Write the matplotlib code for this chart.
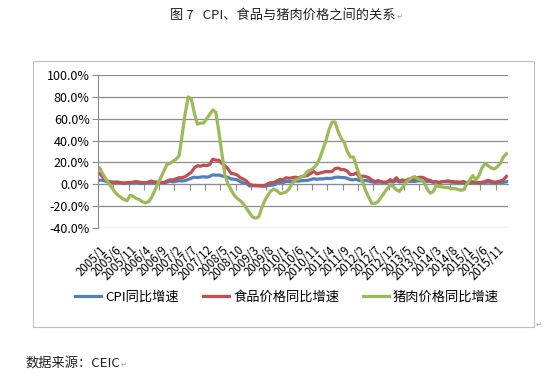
"""Figure 7: CPI, food and pork price YoY growth (China, 2005/1-2016/2)."""
import matplotlib
matplotlib.use("Agg")
import matplotlib.pyplot as plt
from matplotlib.patches import Rectangle
import numpy as np

plt.rcParams["font.family"] = ["Noto Sans CJK SC", "DejaVu Sans"]

# monthly YoY growth, %, 2005/1 .. 2016/2
CPI = [
    3.6, 3.9, 2.7, 1.8, 1.8, 1.6, 1.8, 1.3, 0.9, 1.2, 1.3, 1.6,
    1.9, 0.9, 0.8, 1.2, 1.4, 1.5, 1.0, 1.3, 1.5, 1.4, 1.9, 2.8,
    2.2, 2.7, 3.3, 3.0, 3.4, 4.4, 5.6, 6.5, 6.2, 6.5, 6.9, 6.5,
    7.1, 8.7, 8.3, 8.5, 7.7, 7.1, 6.3, 4.9, 4.6, 4.0, 2.4, 1.2,
    1.0, -1.6, -1.2, -1.5, -1.4, -1.7, -1.8, -1.2, -0.8, -0.5, 0.6, 1.9,
    1.5, 2.7, 2.4, 2.8, 3.1, 2.9, 3.3, 3.5, 3.6, 4.4, 5.1, 4.6,
    4.9, 4.9, 5.4, 5.3, 5.5, 6.4, 6.5, 6.2, 6.1, 5.5, 4.2, 4.1,
    4.5, 3.2, 3.6, 3.4, 3.0, 2.2, 1.8, 2.0, 1.9, 1.7, 2.0, 2.5,
    2.0, 3.2, 2.1, 2.4, 2.1, 2.7, 2.7, 2.6, 3.1, 3.2, 3.0, 2.5,
    2.5, 2.0, 2.4, 1.8, 2.5, 2.3, 2.3, 2.0, 1.6, 1.6, 1.4, 1.5,
    0.8, 1.4, 1.4, 1.5, 1.2, 1.4, 1.6, 2.0, 1.6, 1.3, 1.5, 1.6,
    1.8, 2.3,
]
FOOD = [
    9.8, 7.0, 4.0, 2.5, 2.0, 2.0, 2.0, 1.5, 1.0, 1.5, 1.5, 2.0,
    2.5, 2.0, 1.5, 1.5, 2.0, 3.0, 2.0, 2.0, 2.0, 1.5, 3.0, 4.0,
    4.0, 5.0, 6.0, 6.0, 7.0, 9.0, 11.0, 15.0, 17.0, 16.5, 17.5, 17.0,
    18.0, 23.0, 22.0, 22.0, 19.0, 17.0, 14.0, 10.0, 9.5, 8.5, 6.0, 4.8,
    3.0, 0.0, -0.9, -1.0, -1.2, -1.3, -1.1, 0.5, 1.5, 1.5, 3.2, 4.5,
    4.0, 6.0, 5.5, 6.0, 6.5, 6.0, 7.0, 7.5, 8.0, 10.0, 11.7, 9.6,
    10.3, 11.0, 11.7, 11.5, 11.7, 14.4, 14.8, 13.4, 13.4, 11.9, 8.8, 9.1,
    10.5, 6.2, 7.5, 7.0, 6.0, 3.9, 2.4, 3.4, 2.5, 1.8, 2.1, 4.2,
    2.9, 6.0, 2.7, 4.0, 3.2, 4.9, 5.0, 4.7, 6.1, 6.5, 5.9, 4.2,
    3.7, 2.0, 2.3, 1.5, 2.3, 2.8, 3.1, 2.5, 2.3, 2.2, 2.0, 2.5,
    1.1, 2.4, 2.3, 1.8, 1.6, 1.7, 2.7, 3.7, 2.7, 1.9, 2.3, 3.0,
    4.1, 7.3,
]
PORK = [
    15, 10, 5, 1, -3, -7, -10, -12, -14, -15, -10, -11,
    -13, -14, -16, -17, -16, -12, -6, 0, 6, 12, 18, 19,
    21, 23, 26, 45, 65, 80, 78, 65, 55, 56, 56, 60,
    64, 68, 66, 48, 28, 8, 0, -5, -10, -13, -15, -18,
    -22, -26, -30, -31, -30, -22, -15, -10, -6, -4.5, -6, -8.5,
    -8, -7, -4, 1, 4, 5, 7, 8, 12, 13, 15, 18,
    24, 32, 40, 50, 57, 57, 48, 42, 38, 30, 25, 25,
    16, 8, 2, -6, -12, -17.5, -17.5, -16, -12, -8, -4, -1,
    -2, -5, -6.5, -3, 1.5, 4, 6, 7, 5, 4, 2, -4,
    -8, -7, -1, -2, -2.5, -3, -3, -4, -4, -4.5, -5.5, -5,
    0, 4, 8, 4, 8, 15, 19, 17, 15, 14, 16, 19,
    25, 28,
]
TICK_LABELS = [
    "2005/1", "2005/6", "2005/11", "2006/4", "2006/9", "2007/2", "2007/7",
    "2007/12", "2008/5", "2008/10", "2009/3", "2009/8", "2010/1", "2010/6",
    "2010/11", "2011/4", "2011/9", "2012/2", "2012/7", "2012/12", "2013/5",
    "2013/10", "2014/3", "2014/8", "2015/1", "2015/6", "2015/11",
]
SERIES = [
    ("CPI同比增速", CPI, "#4F81BD"),
    ("食品价格同比增速", FOOD, "#C0504D"),
    ("猪肉价格同比增速", PORK, "#9BBB59"),
]
GRID = "#8C8C8C"
MARK = "↵"  # Word paragraph marks visible in the source page

fig = plt.figure(figsize=(5.5, 3.85), dpi=100)
ax = fig.add_axes([98 / 550, 1 - 228 / 385, 410 / 550, 153 / 385])

n = len(CPI)
x = np.arange(n)
for name, vals, col in SERIES:
    ax.plot(x, np.array(vals) / 100, color=col, lw=2.3, label=name,
            solid_joinstyle="round")

ax.set_xlim(-0.5, n - 0.5)
ax.set_ylim(-0.4, 1.0)
yt = np.arange(-0.4, 1.01, 0.2)
ax.set_yticks(yt)
ax.set_yticklabels([f"{v * 100:.1f}%" for v in yt], fontsize=9)
ax.yaxis.grid(True, color=GRID, lw=0.9)
ax.set_axisbelow(True)
ax.tick_params(axis="y", direction="out", length=4, color=GRID, pad=2)

ax.set_xticks(np.arange(0, n, 5)[:len(TICK_LABELS)])
ax.set_xticklabels(TICK_LABELS, rotation=45, ha="right", va="top",
                   rotation_mode="anchor", fontsize=8.3)
ax.tick_params(axis="x", length=0, pad=11)

for s in ("top", "right", "bottom"):
    ax.spines[s].set_visible(False)
ax.spines["left"].set_color(GRID)

# horizontal axis crosses at 0 with its tick marks between categories
zero = ax.secondary_xaxis(0.4 / 1.4)
zero.set_xticks(np.arange(-0.5, n - 1, 5))
zero.set_xticklabels([])
zero.tick_params(direction="out", length=4, color=GRID)
zero.spines["bottom"].set_color(GRID)

fig.legend(loc="center", bbox_to_anchor=(287 / 550, 1 - 297 / 385), ncol=3,
           frameon=False, fontsize=9.5, handlelength=2.0, columnspacing=1.8,
           handletextpad=0.3)

fig.patches.append(Rectangle((33 / 550, 1 - 327 / 385), 501 / 550, 266 / 385,
                             transform=fig.transFigure, fill=False,
                             edgecolor="#BFBFBF", lw=0.8))

fig.text(283 / 550, 1 - 15 / 385, "图 7   CPI、食品与猪肉价格之间的关系",
         ha="center", va="center", fontsize=9.5, color="#222222")
fig.text(397 / 550, 1 - 17 / 385, MARK, ha="left", va="center",
         fontsize=5, color="#999999", family="DejaVu Sans")
fig.text(25 / 550, 1 - 363 / 385, "数据来源：CEIC",
         ha="left", va="center", fontsize=9.5, color="#222222")
fig.text(121 / 550, 1 - 365 / 385, MARK, ha="left", va="center",
         fontsize=5, color="#999999", family="DejaVu Sans")
fig.text(536 / 550, 1 - 325 / 385, MARK, ha="left", va="center",
         fontsize=5, color="#999999", family="DejaVu Sans")

fig.savefig("out.png", dpi=100)
